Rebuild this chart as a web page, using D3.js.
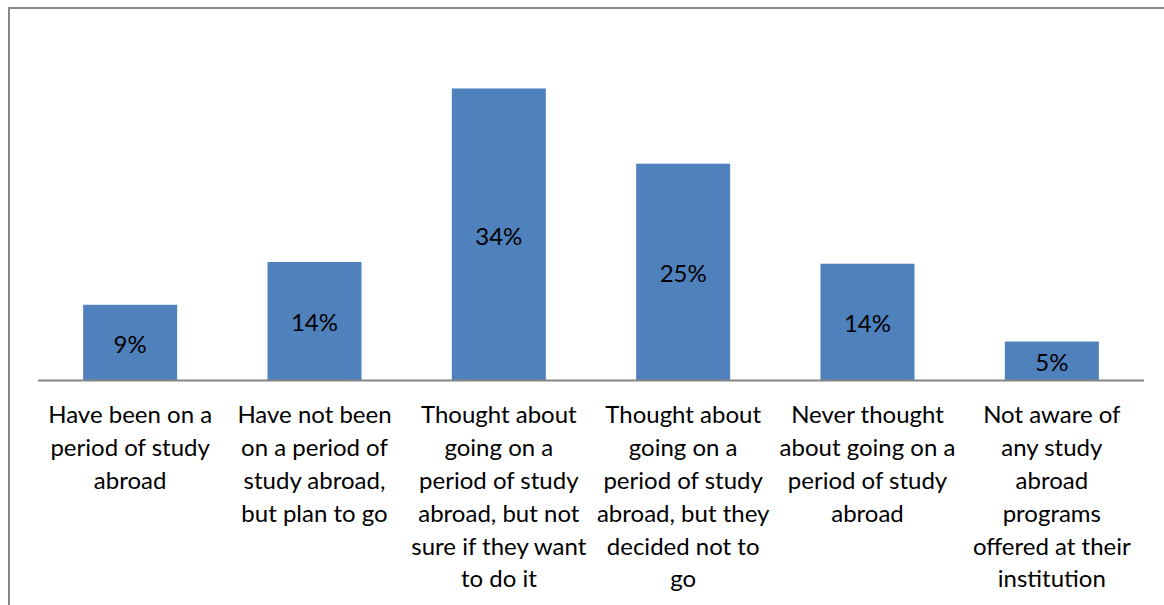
<!DOCTYPE html>
<html>
<head>
<meta charset="utf-8">
<script src="https://cdn.jsdelivr.net/npm/d3@7"></script>
<style>
  body { margin: 0; background: #fff; }
  svg { display: block; font-family: Lato, "Open Sans", sans-serif; }
</style>
</head>
<body>
<div id="chart"></div>
<script>
// categories, already broken into lines the way the chart wraps them
const categories = [
  ["Have been on a", "period of study", "abroad"],
  ["Have not been", "on a period of", "study abroad,", "but plan to go"],
  ["Thought about", "going on a", "period of study", "abroad, but not", "sure if they want", "to do it"],
  ["Thought about", "going on a", "period of study", "abroad, but they", "decided not to", "go"],
  ["Never thought", "about going on a", "period of study", "abroad"],
  ["Not aware of", "any study", "abroad", "programs", "offered at their", "institution"]
];
const values = [8.8, 13.8, 34.1, 25.3, 13.6, 4.5];
const valueLabels = ["9%", "14%", "34%", "25%", "14%", "5%"];

const width = 1164, height = 605;
const margin = { top: 38, right: 20, bottom: 225, left: 38 };
const baseY = height - margin.bottom;

const svg = d3.select("#chart").append("svg")
  .attr("width", width)
  .attr("height", height);

// outer frame, right and bottom edges run off the picture
svg.append("rect")
  .attr("x", 9).attr("y", 8)
  .attr("width", width + 20).attr("height", height + 20)
  .attr("fill", "none")
  .attr("stroke", "#868686")
  .attr("stroke-width", 2);

const x = d3.scaleBand()
  .domain(d3.range(categories.length))
  .range([margin.left, width - margin.right])
  .paddingInner(0.49)
  .paddingOuter(0.245);

const y = d3.scaleLinear()
  .domain([0, 40])
  .range([baseY, margin.top]);

svg.selectAll("rect.bar")
  .data(values)
  .enter().append("rect")
  .attr("class", "bar")
  .attr("x", (d, i) => x(i))
  .attr("y", d => y(d))
  .attr("width", x.bandwidth())
  .attr("height", d => y(0) - y(d))
  .attr("fill", "#4f81bd");

svg.selectAll("text.val")
  .data(values)
  .enter().append("text")
  .attr("class", "val")
  .attr("x", (d, i) => x(i) + x.bandwidth() / 2)
  .attr("y", d => (y(d) + y(0)) / 2 + 2)
  .attr("dy", "0.35em")
  .attr("text-anchor", "middle")
  .attr("font-size", 24)
  .attr("fill", "#000")
  .text((d, i) => valueLabels[i]);

// category axis line
svg.append("line")
  .attr("x1", margin.left).attr("x2", width - margin.right)
  .attr("y1", baseY + 0.5).attr("y2", baseY + 0.5)
  .attr("stroke", "#868686")
  .attr("stroke-width", 2);

const cat = svg.selectAll("text.cat")
  .data(categories)
  .enter().append("text")
  .attr("class", "cat")
  .attr("text-anchor", "middle")
  .attr("font-size", 24)
  .attr("fill", "#000");

cat.selectAll("tspan")
  .data((d, i) => d.map(line => ({ line, i })))
  .enter().append("tspan")
  .attr("x", d => x(d.i) + x.bandwidth() / 2)
  .attr("y", (d, j) => 415 + j * 32.8)
  .attr("dy", "0.35em")
  .text(d => d.line);
</script>
</body>
</html>
